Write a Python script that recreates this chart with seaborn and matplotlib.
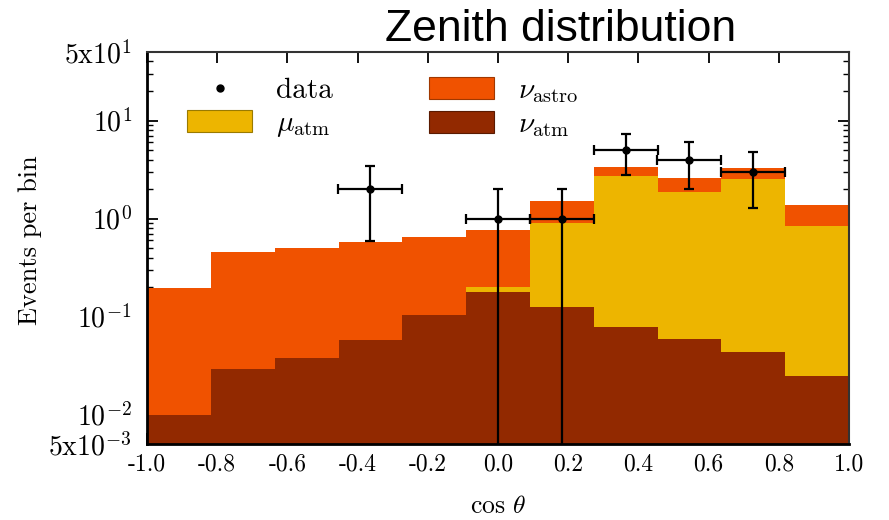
import matplotlib
matplotlib.use('Agg')
import matplotlib.pyplot as plt
import seaborn as sns
import numpy as np
import pandas as pd
from matplotlib.patches import Patch
from matplotlib.lines import Line2D

sns.set_style('ticks')
plt.rcParams['font.family'] = 'cmr10'
plt.rcParams['mathtext.fontset'] = 'cm'
plt.rcParams['axes.unicode_minus'] = False
plt.rcParams['axes.formatter.use_mathtext'] = True
for k in ['text.color', 'axes.labelcolor', 'xtick.color', 'ytick.color', 'axes.edgecolor']:
    plt.rcParams[k] = 'black'

# stacked expectation per cos(theta) bin
bin_centers = [-0.909, -0.727, -0.545, -0.364, -0.182, 0.0, 0.182, 0.364, 0.545, 0.727, 0.909]
nu_atm = [0.010, 0.029, 0.038, 0.058, 0.104, 0.179, 0.124, 0.078, 0.059, 0.043, 0.025]
mu_atm = [0.0, 0.0, 0.0, 0.0, 0.0, 0.021, 0.77, 2.66, 1.79, 2.51, 0.815]
nu_astro = [0.187, 0.428, 0.457, 0.516, 0.541, 0.56, 0.61, 0.61, 0.72, 0.70, 0.52]

# observed events with asymmetric errors
data_x = [-0.364, 0.0, 0.182, 0.364, 0.545, 0.727]
data_y = [2.0, 1.0, 1.0, 5.0, 4.0, 3.0]
data_lo = [0.59, 0.0, 0.0, 2.78, 2.02, 1.28]
data_hi = [3.4, 2.0, 2.0, 7.3, 6.0, 4.8]

xticks = [-1.0, -0.8, -0.6, -0.4, -0.2, 0.0, 0.2, 0.4, 0.6, 0.8, 1.0]
yticks = [5e-3, 1e-2, 1e-1, 1, 10, 50]
ytick_labels = [r'$5\mathrm{x}10^{-3}$', r'$10^{-2}$', r'$10^{-1}$', r'$10^{0}$', r'$10^{1}$', r'$5\mathrm{x}10^{1}$']

lab_astro = r'$\nu_{\rm astro}$'
lab_mu = r'$\mu_{\rm atm}$'
lab_nu = r'$\nu_{\rm atm}$'
colors = {lab_astro: '#F05200', lab_mu: '#EDB500', lab_nu: '#922900'}

n = len(bin_centers)
df = pd.DataFrame({
    'cos': bin_centers * 3,
    'events': nu_astro + mu_atm + nu_atm,
    'component': [lab_astro] * n + [lab_mu] * n + [lab_nu] * n,
})

fig = plt.figure(figsize=(8.89, 5.2), dpi=100)
ax = fig.add_axes([0.1654, 0.146, 0.7897, 0.754])

edges = list(np.linspace(-1, 1, n + 1))
sns.histplot(data=df, x='cos', weights='events', hue='component',
             hue_order=[lab_astro, lab_mu, lab_nu], palette=colors,
             bins=edges, multiple='stack', element='step', alpha=1,
             linewidth=0, legend=False, ax=ax)

y = np.array(data_y)
yerr = [y - np.array(data_lo), np.array(data_hi) - y]
half_w = (edges[1] - edges[0]) / 2
ax.errorbar(data_x, data_y, xerr=half_w, yerr=yerr, fmt='o', color='black',
            markersize=5, elinewidth=1.6, capsize=3.5, capthick=1.6, zorder=5)

ax.set_yscale('log')
ax.set_xlim(-1, 1)
ax.set_ylim(5e-3, 50)
ax.set_xticks(xticks)
ax.set_xticklabels([f'{t:.1f}' for t in xticks])
ax.set_yticks(yticks)
ax.set_yticklabels(ytick_labels)
ax.tick_params(axis='both', which='major', direction='in', top=True, right=True,
               length=8, width=1.3)
ax.tick_params(axis='x', pad=7, labelsize=17)
ax.tick_params(axis='y', pad=11, labelsize=20)
ax.tick_params(axis='y', which='minor', direction='in', right=True, length=4, width=1.0)
ax.tick_params(axis='x', which='minor', bottom=False, top=False)
for s in ['left', 'bottom']:
    ax.spines[s].set_linewidth(2)
for s in ['top', 'right']:
    ax.spines[s].set_linewidth(1.5)
    ax.spines[s].set_color('#333333')

ax.set_xlabel(r'cos $\theta$', fontsize=18.5)
ax.set_ylabel('Events per bin', fontsize=19)
ax.xaxis.set_label_coords(0.5, -0.128)
ax.yaxis.set_label_coords(-0.15, 0.52)

handles = [
    Line2D([], [], marker='o', color='black', linestyle='none', markersize=5),
    Patch(facecolor=colors[lab_mu], edgecolor='#9a7a00', linewidth=0.8),
    Patch(facecolor=colors[lab_astro], edgecolor='#a03800', linewidth=0.8),
    Patch(facecolor=colors[lab_nu], edgecolor='#5a1a00', linewidth=0.8),
]
labels = ['data', lab_mu, lab_astro, lab_nu]
ax.legend(handles, labels, ncol=2, loc='upper left', bbox_to_anchor=(0.057, 0.935),
          frameon=False, fontsize=21, handlelength=2.24, handleheight=0.76,
          borderpad=0, borderaxespad=0, columnspacing=3.3, handletextpad=0.8,
          labelspacing=0.2)

fig.text(0.63, 0.944, 'Zenith distribution', family='Liberation Sans',
         fontsize=32, ha='center', va='center', color='black')

fig.savefig('out.png', dpi=100)
